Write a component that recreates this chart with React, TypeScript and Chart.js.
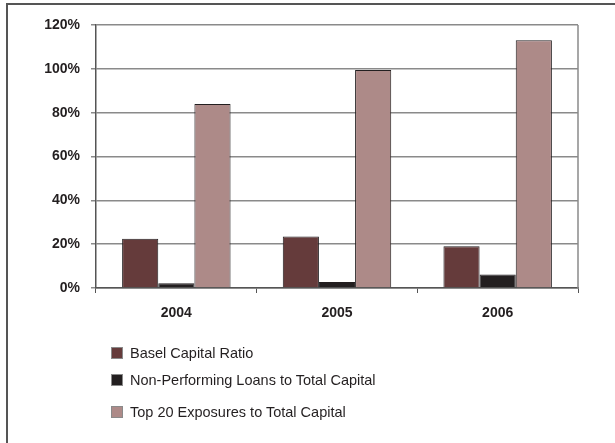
import React, { useEffect, useRef } from "react";
import { Chart, registerables } from "chart.js";

Chart.register(...registerables);

const categories = ["2004", "2005", "2006"];
const seriesNames = [
  "Basel Capital Ratio",
  "Non-Performing Loans to Total Capital",
  "Top 20 Exposures to Total Capital",
];
const baselCapitalRatio = [22.5, 23.5, 19];
const nonPerformingLoans = [2.2, 2.7, 6.2];
const top20Exposures = [84, 99.5, 113];
const yTicks = [0, 20, 40, 60, 80, 100, 120];

const colors = ["#653b3b", "#231f20", "#ad8a88"];
const FONT = "'Liberation Sans', Arial, sans-serif";

const plotBorder = {
  id: "plotBorder",
  afterDraw(chart: any) {
    const { ctx, chartArea } = chart;
    ctx.save();
    ctx.strokeStyle = "#8a8a8a";
    ctx.lineWidth = 1.5;
    ctx.beginPath();
    ctx.moveTo(chartArea.right, chartArea.top);
    ctx.lineTo(chartArea.right, chartArea.bottom);
    ctx.stroke();
    ctx.restore();
  },
};

export default function App() {
  const ref = useRef<HTMLCanvasElement | null>(null);
  useEffect(() => {
    if (!ref.current) return;
    const data = [baselCapitalRatio, nonPerformingLoans, top20Exposures];
    const chart = new Chart(ref.current, {
      type: "bar",
      data: {
        labels: categories,
        datasets: seriesNames.map((name, i) => ({
          label: name,
          data: data[i],
          backgroundColor: colors[i],
          borderColor: "#231f20",
          borderWidth: 1,
          categoryPercentage: 0.675,
          barPercentage: 1,
        })),
      },
      options: {
        animation: false,
        responsive: false,
        maintainAspectRatio: false,
        layout: { padding: { left: 0, top: 25, right: 37, bottom: 115 } },
        plugins: { legend: { display: false }, tooltip: { enabled: false } },
        scales: {
          x: {
            offset: true,
            grid: {
              display: true,
              offset: true,
              drawOnChartArea: false,
              drawTicks: true,
              tickLength: 5,
              color: "#555",
            },
            border: { display: true, color: "#555", width: 1.5 },
            ticks: {
              color: "#231f20",
              font: { family: FONT, size: 14, weight: "bold" },
              padding: 12,
            },
            afterFit(scale: any) {
              scale.height = 40;
            },
          },
          y: {
            min: 0,
            max: 120,
            afterBuildTicks(scale: any) {
              scale.ticks = yTicks.map((v) => ({ value: v }));
            },
            grid: {
              color: "#8a8a8a",
              lineWidth: 1.5,
              drawTicks: true,
              tickLength: 5,
            },
            border: { display: true, color: "#555", width: 1.5 },
            ticks: {
              color: "#231f20",
              font: { family: FONT, size: 14, weight: "bold" },
              padding: 11,
              callback: (v: any) => v + "%",
            },
            afterFit(scale: any) {
              scale.width = 96;
            },
          },
        },
      },
      plugins: [plotBorder],
    });
    return () => chart.destroy();
  }, []);

  const legendY = [352.7, 380, 411.7];
  return (
    <div
      style={{
        position: "fixed",
        left: 0,
        top: 0,
        width: 615,
        height: 443,
        background: "#fff",
        overflow: "hidden",
      }}
    >
      <div
        style={{
          position: "absolute",
          left: 6,
          top: 3,
          width: 700,
          height: 600,
          borderTop: "2px solid #555",
          borderLeft: "2px solid #555",
        }}
      />
      <canvas
        ref={ref}
        width={615}
        height={443}
        style={{ position: "absolute", left: 0, top: 0, width: 615, height: 443 }}
      />
      {seriesNames.map((name, i) => (
        <div
          key={name}
          style={{
            position: "absolute",
            left: 111,
            top: legendY[i] - 10,
            height: 20,
            display: "flex",
            alignItems: "center",
            fontFamily: FONT,
            fontSize: 14.5,
            color: "#231f20",
            whiteSpace: "nowrap",
          }}
        >
          <span
            style={{
              display: "inline-block",
              width: 10,
              height: 10,
              background: colors[i],
              border: "1px solid #8a8a8a",
              marginRight: 7,
            }}
          />
          <span>{name}</span>
        </div>
      ))}
    </div>
  );
}
